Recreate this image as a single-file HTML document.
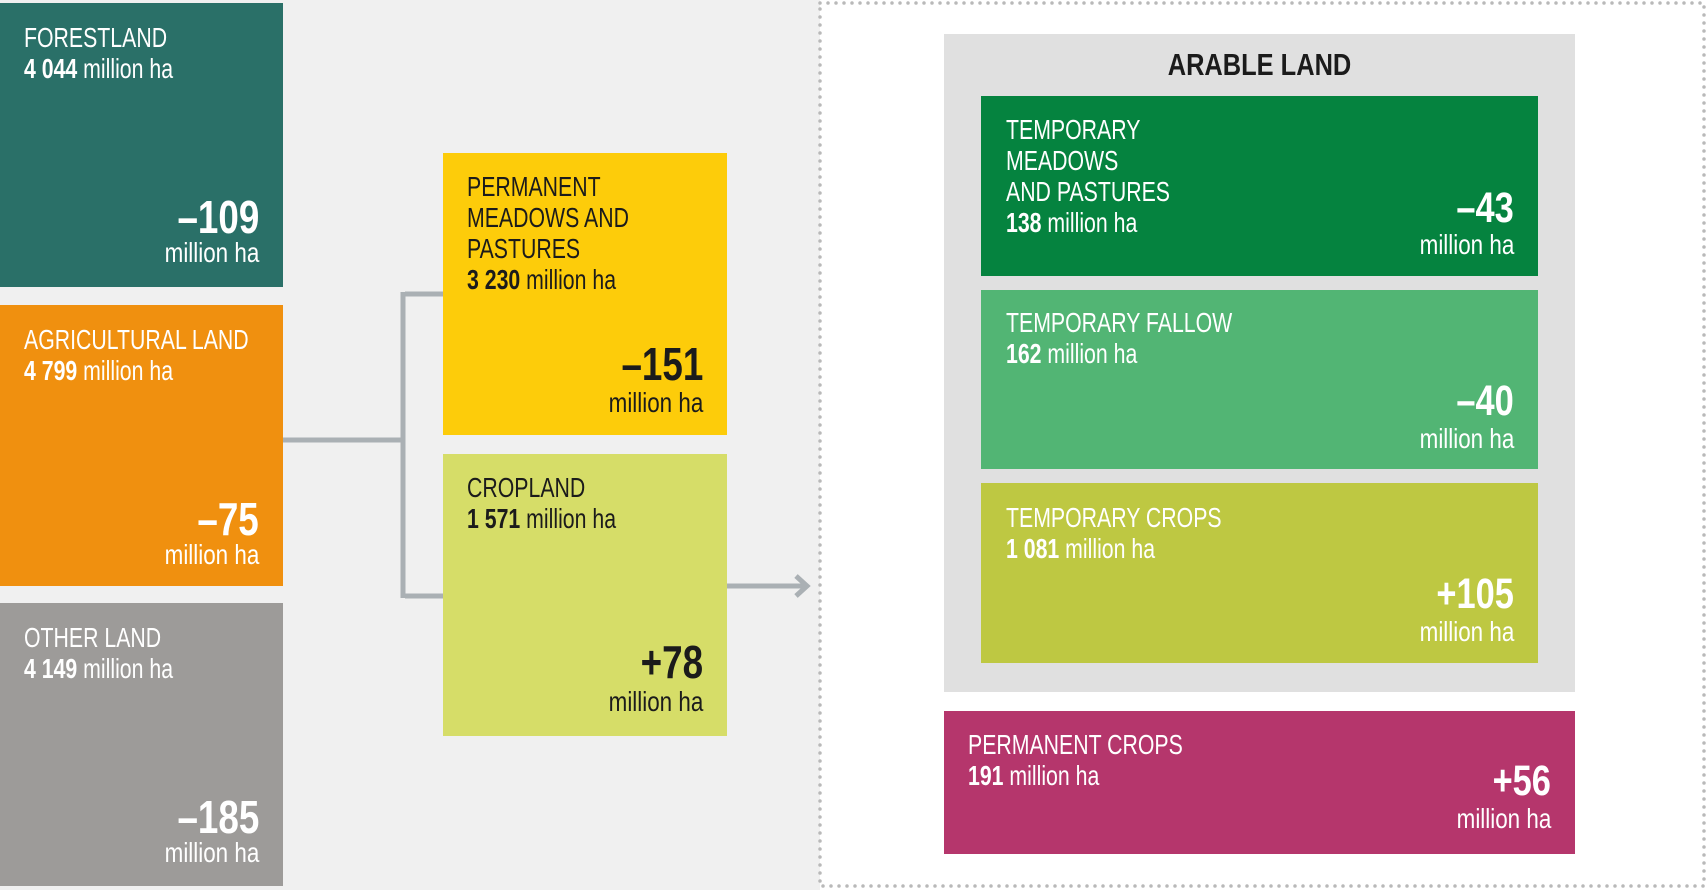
<!DOCTYPE html>
<html><head><meta charset="utf-8"><style>
body{margin:0;width:1708px;height:890px;position:relative;overflow:hidden;background:#fff;font-family:"Liberation Sans",sans-serif}
.b{position:absolute}
.t{position:absolute;white-space:nowrap;font-size:28px;line-height:31px}
.l{left:24px;transform:scaleX(0.76);transform-origin:left top}
.r{right:24px;text-align:right;transform:scaleX(0.8);transform-origin:right top}
.n{position:absolute;white-space:nowrap;font-size:46px;line-height:46px;font-weight:bold;letter-spacing:0}
.w{color:#fff}.k{color:#1b1b1b}
b{font-weight:bold}
</style></head><body>
<div class="b" style="left:0;top:0;width:820px;height:890px;background:#f0f0f0"></div>
<svg class="b" style="left:0;top:0" width="1708" height="890">
<rect x="820" y="3" width="884" height="883" fill="#fff"/>
<path d="M820 3 H1704 V886 H820 Z" fill="none" stroke="#b9b9b9" stroke-width="3.5" stroke-linecap="round" stroke-dasharray="0 8"/>
<path d="M283 440 H403 M405 294 H445 M403 292 V598 M405 596 H445" stroke="#aab0b4" stroke-width="5" fill="none"/>
<path d="M727 586 H805" stroke="#aab0b4" stroke-width="5"/>
<path d="M796 576 L807 586 L796 596" stroke="#aab0b4" stroke-width="5" fill="none"/>
</svg>

<div class="b w" style="left:0;top:3px;width:283px;height:284px;background:#2a7068">
<div class="t l" style="top:19px">FORESTLAND<br><b>4 044</b> million ha</div>
<div class="n r" style="top:191px">–109</div>
<div class="t r" style="top:234px">million ha</div></div>

<div class="b w" style="left:0;top:305px;width:283px;height:281px;background:#f0900f">
<div class="t l" style="top:19px">AGRICULTURAL LAND<br><b>4 799</b> million ha</div>
<div class="n r" style="top:191px">–75</div>
<div class="t r" style="top:234px">million ha</div></div>

<div class="b w" style="left:0;top:603px;width:283px;height:283px;background:#9d9b99">
<div class="t l" style="top:19px">OTHER LAND<br><b>4 149</b> million ha</div>
<div class="n r" style="top:191px">–185</div>
<div class="t r" style="top:234px">million ha</div></div>

<div class="b k" style="left:443px;top:153px;width:284px;height:282px;background:#fdcc0a">
<div class="t l" style="top:18px">PERMANENT<br>MEADOWS AND<br>PASTURES<br><b>3 230</b> million ha</div>
<div class="n r" style="top:188px">–151</div>
<div class="t r" style="top:234px">million ha</div></div>

<div class="b k" style="left:443px;top:454px;width:284px;height:282px;background:#d6dd68">
<div class="t l" style="top:18px">CROPLAND<br><b>1 571</b> million ha</div>
<div class="n r" style="top:185px">+78</div>
<div class="t r" style="top:232px">million ha</div></div>

<div class="b" style="left:944px;top:34px;width:631px;height:658px;background:#e0e0e0">
<div class="b k" style="left:0;width:631px;top:15px;text-align:center;font-size:31px;line-height:31px;font-weight:bold;transform:scaleX(0.82)">ARABLE LAND</div></div>

<div class="b w" style="left:981px;top:96px;width:557px;height:180px;background:#05833f">
<div class="t l" style="left:25px;top:18px">TEMPORARY<br>MEADOWS<br>AND PASTURES<br><b>138</b> million ha</div>
<div class="n r" style="top:89px;font-size:43px">–43</div>
<div class="t r" style="top:133px">million ha</div></div>

<div class="b w" style="left:981px;top:290px;width:557px;height:179px;background:#52b574">
<div class="t l" style="left:25px;top:17px">TEMPORARY FALLOW<br><b>162</b> million ha</div>
<div class="n r" style="top:88px;font-size:43px">–40</div>
<div class="t r" style="top:133px">million ha</div></div>

<div class="b w" style="left:981px;top:483px;width:557px;height:180px;background:#bec842">
<div class="t l" style="left:25px;top:19px">TEMPORARY CROPS<br><b>1 081</b> million ha</div>
<div class="n r" style="top:88px;font-size:43px">+105</div>
<div class="t r" style="top:133px">million ha</div></div>

<div class="b w" style="left:944px;top:711px;width:631px;height:143px;background:#b5366c">
<div class="t l" style="left:24px;top:18px">PERMANENT CROPS<br><b>191</b> million ha</div>
<div class="n r" style="top:47px;font-size:43px">+56</div>
<div class="t r" style="top:92px">million ha</div></div>
</body></html>
